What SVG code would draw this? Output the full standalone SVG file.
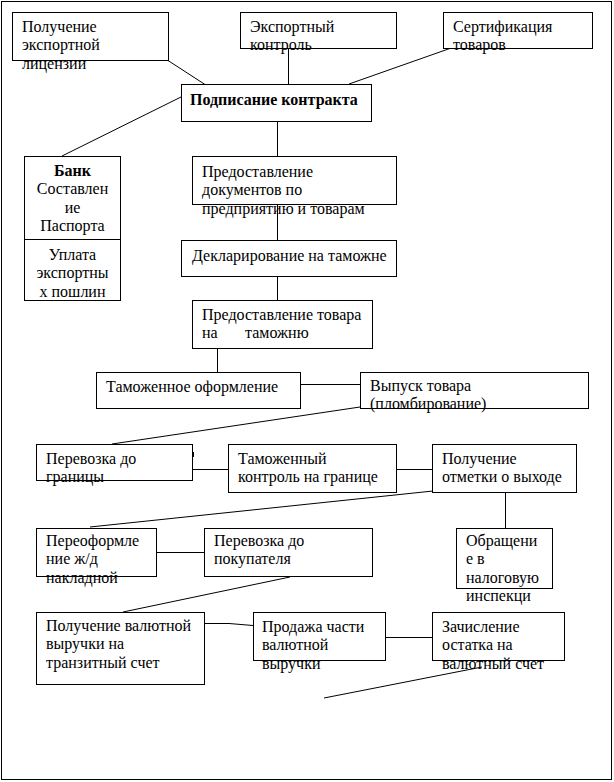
<svg xmlns="http://www.w3.org/2000/svg" width="614" height="782" viewBox="0 0 614 782">
<style>
.b{fill:#fff;stroke:#000;stroke-width:1}
.c{stroke:#000;stroke-width:1;fill:none}
text{font-family:"Liberation Serif","Times New Roman",serif;font-size:16px;fill:#000}
.bd{font-weight:bold}
.m{text-anchor:middle}
</style>
<rect x="1.5" y="1.5" width="610" height="778" fill="#fff" stroke="#000" stroke-width="1"/>
<g id="connectors">
<line class="c" x1="168" y1="60.5" x2="205" y2="84.5"/>
<line class="c" x1="288.5" y1="48" x2="288.5" y2="84"/>
<line class="c" x1="454" y1="47" x2="349" y2="84"/>
<line class="c" x1="181" y1="97" x2="62" y2="156"/>
<line class="c" x1="277.5" y1="121" x2="277.5" y2="156"/>
<line class="c" x1="277.5" y1="204" x2="277.5" y2="240"/>
<line class="c" x1="277.5" y1="276" x2="277.5" y2="300"/>
<line class="c" x1="217.5" y1="348" x2="217.5" y2="372"/>
<line class="c" x1="300" y1="384.5" x2="360" y2="384.5"/>
<line class="c" x1="360" y1="407" x2="112" y2="444"/>
<line class="c" x1="193.5" y1="452" x2="193.5" y2="457"/>
<line class="c" x1="192" y1="469.5" x2="228" y2="469.5"/>
<line class="c" x1="396" y1="469.5" x2="432" y2="469.5"/>
<line class="c" x1="433" y1="491" x2="90" y2="527"/>
<line class="c" x1="505.5" y1="492" x2="505.5" y2="528"/>
<line class="c" x1="156" y1="552.5" x2="204" y2="552.5"/>
<line class="c" x1="290" y1="577" x2="123" y2="612"/>
<polyline class="c" points="204,623.5 229,623.5 253,625.5"/>
<line class="c" x1="385" y1="637.5" x2="432" y2="637.5"/>
<line class="c" x1="324" y1="698" x2="482" y2="667"/>
</g>
<g id="n1"><rect class="b" x="12.5" y="12.5" width="156" height="48"/>
<text x="22" y="32">Получение</text><text x="22" y="50.4">экспортной</text><text x="22" y="68.8">лицензии</text></g>
<g id="n2"><rect class="b" x="240.5" y="12.5" width="156" height="36"/>
<text x="250" y="32">Экспортный</text><text x="250" y="50.4">контроль</text></g>
<g id="n3"><rect class="b" x="443.5" y="12.5" width="149" height="36"/>
<text x="453" y="32">Сертификация</text><text x="453" y="50.4">товаров</text></g>
<g id="n4"><rect class="b" x="181.5" y="84.5" width="190" height="37"/>
<text class="bd" x="190" y="105">Подписание контракта</text></g>
<g id="n5"><rect class="b" x="24.5" y="156.5" width="96" height="144"/>
<line class="c" x1="24.5" y1="239.5" x2="120.5" y2="239.5"/>
<text class="m bd" x="72.5" y="176">Банк</text>
<text class="m" x="72.5" y="194.4">Составлен</text>
<text class="m" x="72.5" y="212.8">ие</text>
<text class="m" x="72.5" y="231.2">Паспорта</text>
<text class="m" x="72.5" y="260">Уплата</text>
<text class="m" x="72.5" y="278.4">экспортны</text>
<text class="m" x="72.5" y="296.8">х пошлин</text></g>
<g id="n6"><rect class="b" x="192.5" y="156.5" width="204" height="48"/>
<text x="202" y="177">Предоставление</text><text x="202" y="195.4">документов по</text><text x="202" y="213.8">предприятию и товарам</text></g>
<g id="n7"><rect class="b" x="181.5" y="240.5" width="215" height="36"/>
<text x="192" y="261">Декларирование на таможне</text></g>
<g id="n8"><rect class="b" x="192.5" y="300.5" width="180" height="48"/>
<text x="202" y="320">Предоставление товара</text><text y="338.4"><tspan x="202">на</tspan><tspan x="245">таможню</tspan></text></g>
<g id="n9"><rect class="b" x="96.5" y="372.5" width="204" height="36"/>
<text x="106" y="392">Таможенное оформление</text></g>
<g id="n10"><rect class="b" x="360.5" y="372.5" width="228" height="36"/>
<text x="370" y="391">Выпуск товара</text><text x="370" y="409.4">(пломбирование)</text></g>
<g id="n11"><rect class="b" x="36.5" y="444.5" width="156" height="36"/>
<text x="46" y="464">Перевозка до</text><text x="46" y="482.4">границы</text></g>
<g id="n12"><rect class="b" x="228.5" y="444.5" width="168" height="48"/>
<text x="238" y="464">Таможенный</text><text x="238" y="482.4">контроль на границе</text></g>
<g id="n13"><rect class="b" x="432.5" y="444.5" width="144" height="48"/>
<text x="442" y="464">Получение</text><text x="442" y="482.4">отметки о выходе</text></g>
<g id="n14"><rect class="b" x="36.5" y="528.5" width="120" height="48"/>
<text x="46" y="546">Переоформле</text><text x="46" y="564.4">ние ж/д</text><text x="46" y="582.8">накладной</text></g>
<g id="n15"><rect class="b" x="204.5" y="528.5" width="168" height="48"/>
<text x="214" y="546">Перевозка до</text><text x="214" y="564.4">покупателя</text></g>
<g id="n16"><rect class="b" x="456.5" y="528.5" width="96" height="60"/>
<text x="466" y="546">Обращени</text><text x="466" y="564.4">е в</text><text x="466" y="582.8">налоговую</text><text x="466" y="601.2">инспекци</text></g>
<g id="n17"><rect class="b" x="36.5" y="612.5" width="168" height="72"/>
<text x="46" y="631">Получение валютной</text><text x="46" y="649.4">выручки на</text><text x="46" y="667.8">транзитный счет</text></g>
<g id="n18"><rect class="b" x="253.5" y="612.5" width="132" height="48"/>
<text x="262" y="632">Продажа части</text><text x="262" y="650.4">валютной</text><text x="262" y="668.8">выручки</text></g>
<g id="n19"><rect class="b" x="432.5" y="612.5" width="132" height="48"/>
<text x="442" y="632">Зачисление</text><text x="442" y="650.4">остатка на</text><text x="442" y="668.8">валютный счет</text></g>
</svg>
